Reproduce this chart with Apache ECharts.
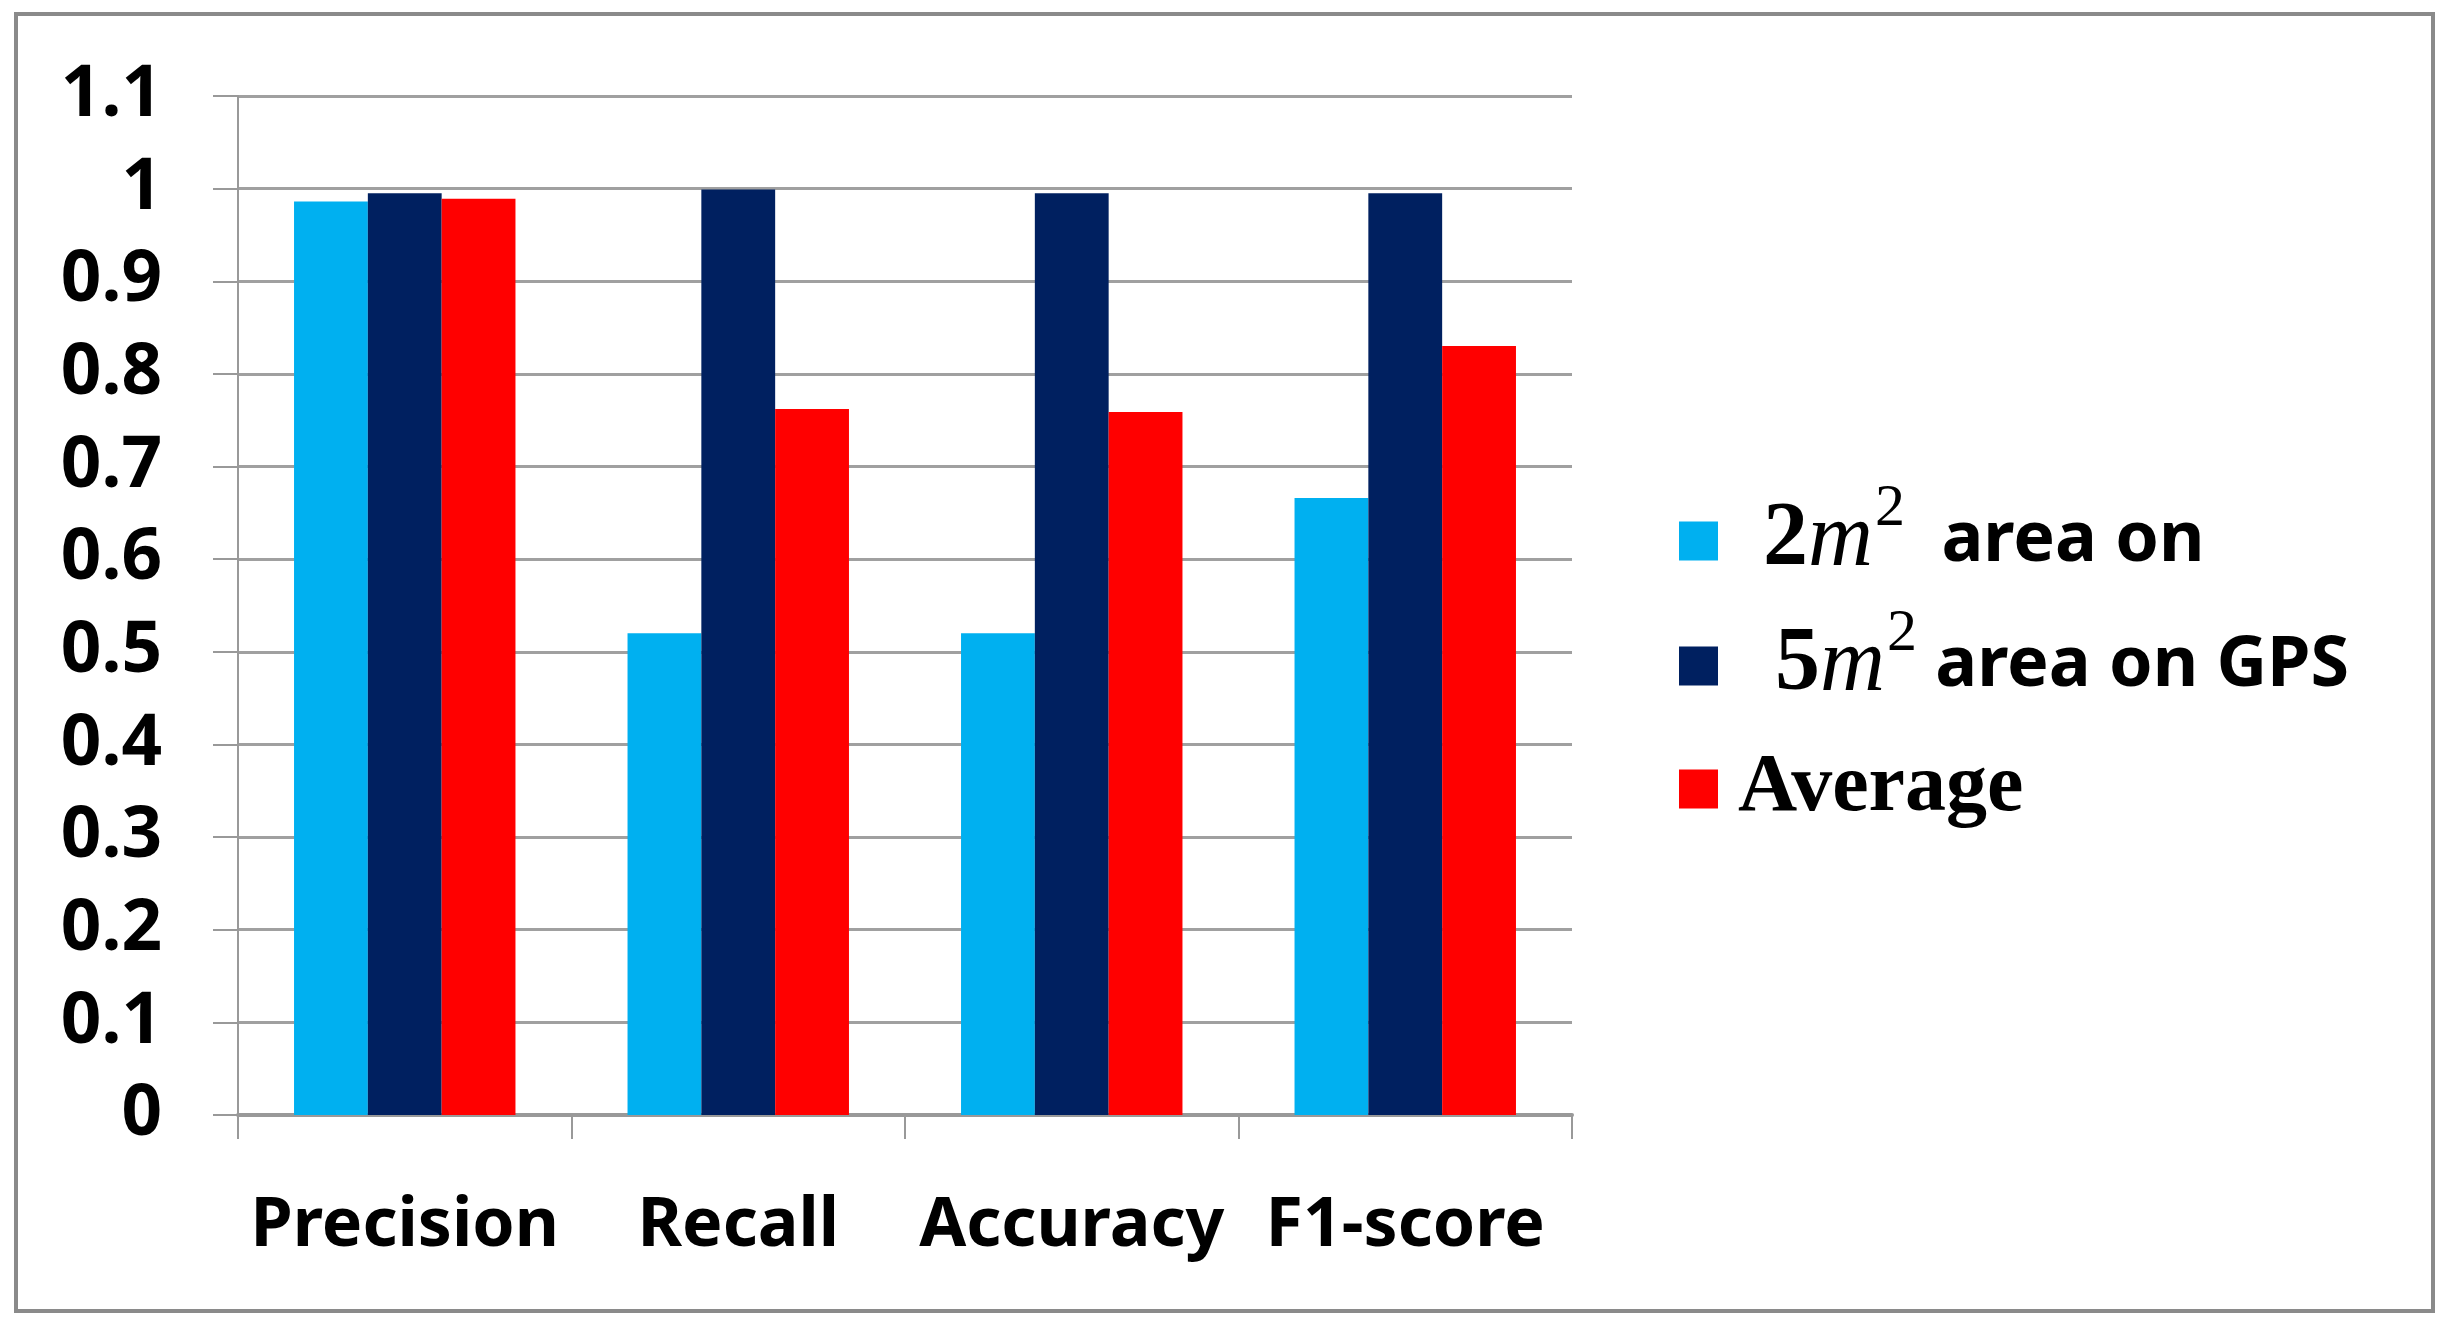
<!DOCTYPE html>
<html>
	<head>
		<meta charset="utf-8" />
		<title></title>
		<script type="text/javascript" src="https://cdn.jsdelivr.net/npm/echarts@6/dist/echarts.min.js"></script>
	</head>
	<body>
		<div id="main" style="width: 2453px; height: 1334px;"></div>
	</body>
	<style>
		body{
			padding: 0px;
			margin: 0px;
			background: #fff;
		}
	</style>
	<script type="text/javascript">
		var categories = ['Precision', 'Recall', 'Accuracy', 'F1-score']
		var yLabels = ['0', '0.1', '0.2', '0.3', '0.4', '0.5', '0.6', '0.7', '0.8', '0.9', '1', '1.1']
		var seriesNames = ['2m2 area on', '5m2 area on GPS', 'Average']
		var area2 = [0.986, 0.52, 0.52, 0.666]
		var area5 = [0.995, 0.999, 0.995, 0.995]
		var average = [0.989, 0.762, 0.759, 0.83]

		var mychart = echarts.init(document.getElementById('main'))

		var legendText = {
			'2m2 area on': '{sp1|}{num|2}{it|m}{sup|2}{txt|  area on}',
			'5m2 area on GPS': '{sp2|}{num|5}{it|m}{sup|2}{txt| area on GPS}',
			'Average': '{sp3|}{avg|Average}'
		}

		var rich = {
			sp1: {width: 40, lineHeight: 88},
			sp2: {width: 52, lineHeight: 88},
			sp3: {width: 15, lineHeight: 88},
			num: {fontFamily: 'Liberation Serif', fontSize: 90, fontWeight: 'bold', color: '#000', lineHeight: 88},
			it: {fontFamily: 'Liberation Serif', fontSize: 90, fontStyle: 'italic', color: '#000', lineHeight: 88},
			sup: {fontFamily: 'Liberation Serif', fontSize: 60, color: '#000', lineHeight: 42, verticalAlign: 'bottom', padding: [0, 0, 46, 2]},
			txt: {fontFamily: 'Noto Sans', fontSize: 70, fontWeight: 'bold', color: '#000', lineHeight: 88},
			avg: {fontFamily: 'Liberation Serif', fontSize: 82, fontWeight: 'bold', color: '#000', lineHeight: 88}
		}

		// one legend per entry so each row sits where the reference puts it
		var legendTops = [474, 599, 743]
		var legends = seriesNames.map(function(n, i) {
			return {
				left: 1674,
				top: legendTops[i],
				itemWidth: 39,
				itemHeight: 39,
				icon: 'rect',
				data: [n],
				formatter: function(name) {
					return legendText[name]
				},
				textStyle: {rich: rich}
			}
		})

		mychart.setOption({
			color: ['#00b0f0', '#002060', '#ff0000'],
			animation: false,
			grid: {
				left: 238,
				right: 881,
				top: 96,
				bottom: 219
			},
			legend: legends,
			xAxis: {
				type: 'category',
				data: categories,
				axisLine: {lineStyle: {color: '#999', width: 4}},
				axisTick: {show: true, length: 24, lineStyle: {color: '#999', width: 2}},
				axisLabel: {
					interval: 0,
					margin: 78,
					fontFamily: 'Noto Sans',
					fontWeight: 'bold',
					fontSize: 68,
					color: '#000'
				}
			},
			yAxis: {
				type: 'value',
				min: 0,
				max: 1.1,
				interval: 0.1,
				axisLine: {show: true, lineStyle: {color: '#999', width: 2}},
				axisTick: {show: true, length: 25, lineStyle: {color: '#999', width: 2}},
				splitLine: {lineStyle: {color: '#a0a0a0', width: 3}},
				axisLabel: {
					margin: 76,
					fontFamily: 'Noto Sans',
					fontWeight: 'bold',
					fontSize: 71,
					color: '#000',
					formatter: function(v) {
						return yLabels[Math.round(v * 10)]
					}
				}
			},
			graphic: [{
				type: 'rect',
				shape: {x: 16, y: 14, width: 2417, height: 1297},
				style: {fill: null, stroke: '#8a8a8a', lineWidth: 4},
				silent: true
			}],
			series: [{
				name: seriesNames[0],
				type: 'bar',
				data: area2,
				barGap: '0%',
				barCategoryGap: '33.6%'
			}, {
				name: seriesNames[1],
				type: 'bar',
				data: area5
			}, {
				name: seriesNames[2],
				type: 'bar',
				data: average
			}]
		})
	</script>
</html>
